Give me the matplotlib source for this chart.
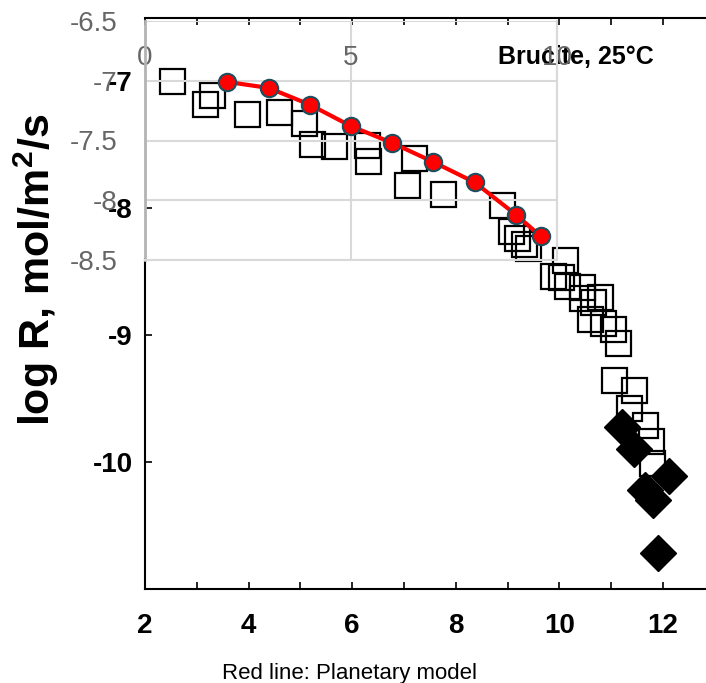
import numpy as np
import matplotlib
matplotlib.use("Agg")
from matplotlib import pyplot as plt
from matplotlib.ticker import MultipleLocator

plt.rcParams['font.family'] = ['Liberation Sans', 'DejaVu Sans']
plt.rcParams['mathtext.fontset'] = 'custom'
plt.rcParams['mathtext.rm'] = 'Liberation Sans'
plt.rcParams['mathtext.bf'] = 'Liberation Sans:bold'
plt.rcParams['axes.unicode_minus'] = False

# measured rates (background figure, x = pH, y = log R)
sq_x = [2.52, 3.16, 3.30, 3.96, 4.59, 5.06, 5.22, 5.64, 6.29, 6.31, 7.19, 7.05,
        7.76, 8.89, 9.06, 9.18, 9.32, 9.40, 10.11, 9.88, 10.04, 10.14, 10.44,
        10.43, 10.65, 10.78, 10.60, 10.85, 11.04, 11.14, 11.05, 11.44, 11.34,
        11.65, 11.76, 11.78]
sq_y = [-7.00, -7.18, -7.11, -7.26, -7.24, -7.33, -7.49, -7.51, -7.50, -7.63,
        -7.60, -7.82, -7.89, -7.97, -8.18, -8.23, -8.28, -8.31, -8.41, -8.53,
        -8.54, -8.61, -8.62, -8.71, -8.74, -8.70, -8.87, -8.90, -8.95, -9.06,
        -9.35, -9.43, -9.57, -9.71, -9.83, -10.01]
dia_x = [11.21, 11.44, 11.65, 11.81, 12.12, 11.90]
dia_y = [-9.72, -9.90, -10.22, -10.30, -10.11, -10.72]

# planetary model (overlay axes)
model_x = [2, 3, 4, 5, 6, 7, 8, 9, 9.6]
model_y = [-7.01, -7.06, -7.20, -7.38, -7.52, -7.68, -7.85, -8.12, -8.30]

fig = plt.figure(figsize=(7.06, 6.83), dpi=100)

# background figure
ax1 = fig.add_axes([145/706, 1-589/683, 561/706, 571/683])
ax1.set_xlim(2, 12.83)
ax1.set_ylim(-11, -6.5)
ax1.plot(sq_x, sq_y, 's', ms=18, mfc='none', mec='black', mew=1.6)
ax1.plot(dia_x, dia_y, 'D', ms=18, mfc='black', mec='black', mew=1)
ax1.xaxis.set_major_locator(MultipleLocator(2))
ax1.xaxis.set_minor_locator(MultipleLocator(1))
ax1.set_yticks([-10, -9, -8, -7])
ax1.tick_params(which='both', direction='in', top=True, right=False,
                length=5, width=1.2)
ax1.tick_params(axis='x', pad=17, labelsize=20)
ax1.tick_params(axis='y', pad=9, labelsize=20)
for lab in ax1.get_xticklabels() + ax1.get_yticklabels():
    lab.set_fontweight('bold')
ax1.spines['right'].set_visible(False)
ax1.spines['left'].set_bounds(-11, -8.4)
for s in ['left', 'bottom', 'top']:
    ax1.spines[s].set_linewidth(1.5)
ax1.text(498/706, 1-57/683, 'Brucite, 25°C', transform=fig.transFigure,
         fontsize=18, fontweight='bold', ha='left', va='center', clip_on=False)

# overlay chart
ax2 = fig.add_axes([145/706, 1-260/683, 412/706, 239/683])
ax2.patch.set_alpha(0)
ax2.set_xlim(0, 10)
ax2.set_ylim(-8.5, -6.5)
ax2.set_xticks([0, 5, 10])
ax2.set_yticks([-8.5, -8, -7.5, -7, -6.5])
ax2.set_yticklabels(['-8.5', '-8', '-7.5', '-7', '-6.5'])
ax2.grid(True, color='#d9d9d9', lw=1.5)
ax2.set_axisbelow(True)
ax2.xaxis.tick_top()
ax2.tick_params(length=0, labelcolor='#666666', labelsize=20)
ax2.tick_params(axis='x', pad=-36)
ax2.tick_params(axis='y', pad=20)
ax2.spines['top'].set_visible(False)
ax2.spines['left'].set_color('#b3b3b3')
ax2.spines['left'].set_linewidth(2)
ax2.spines['right'].set_color('#d9d9d9')
ax2.spines['bottom'].set_color('#d9d9d9')
ax2.spines['right'].set_linewidth(1.5)
ax2.spines['bottom'].set_linewidth(1.5)
ax2.plot(model_x, model_y, '-', color='red', lw=3, zorder=3)
ax2.plot(model_x, model_y, 'o', ms=12.5, mfc='red', mec='#1d4f5f', mew=1.5,
         zorder=4)

fig.text(36/706, 1-270/683, r'log R, mol/m$^{\mathbf{2}}$/s', rotation=90,
         fontsize=31, fontweight='bold', ha='center', va='center')
fig.text(350/706, 1-679/683, 'Red line: Planetary model', ha='center',
         va='baseline', fontsize=16)

fig.savefig('out.png', dpi=100)
